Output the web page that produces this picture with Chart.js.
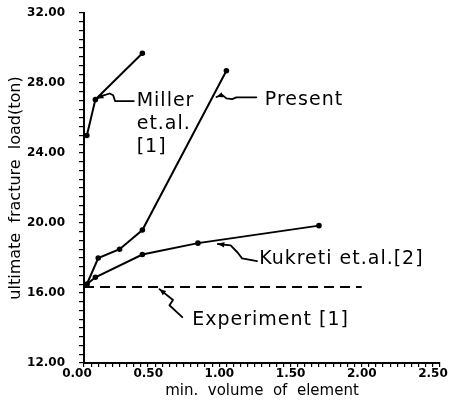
<!DOCTYPE html>
<html>
<head>
<meta charset="utf-8">
<script src="https://cdn.jsdelivr.net/npm/chart.js@4.4.1/dist/chart.umd.min.js"></script>
<style>
  html, body { margin: 0; padding: 0; background: #fff; }
  #wrap { width: 454px; height: 405px; }
</style>
</head>
<body>
<div id="wrap"><canvas id="loadChart" width="454" height="405"></canvas></div>
<script>
// fracture load vs. element volume
const millerX = [0.02, 0.08, 0.41];
const millerY = [25.0, 27.05, 29.7];
const presentX = [0.02, 0.10, 0.25, 0.41, 1.00];
const presentY = [16.5, 18.0, 18.5, 19.6, 28.7];
const kukretiX = [0.02, 0.08, 0.41, 0.80, 1.65];
const kukretiY = [16.5, 16.9, 18.2, 18.85, 19.85];
const experimentX = [0, 1.95];
const experimentY = [16.35, 16.35];

const xLabelStep = 0.5;
const yLabelStep = 4;

const toPoints = (xs, ys) => xs.map((x, i) => ({ x: x, y: ys[i] }));

// hand-drawn style callouts, anchored in data units
const callouts = [
  { lines: ['Miller', 'et.al.', '[1]'], x: 0.37, y: 26.95, lineGap: 1.3,
    path: [[0.091, 27.12], [0.133, 27.28], [0.18, 27.4], [0.205, 27.3], [0.218, 26.97], [0.28, 26.97], [0.35, 26.97]] },
  { lines: ['Present'], x: 1.27, y: 27.05,
    path: [[0.93, 27.2], [0.97, 27.32], [1.0, 27.12], [1.04, 27.08], [1.07, 27.18], [1.21, 27.18]] },
  { lines: ['Kukreti et.al.[2]'], x: 1.23, y: 17.95,
    path: [[0.94, 18.8], [1.03, 18.72], [1.08, 18.3], [1.11, 17.98], [1.215, 17.82]] },
  { lines: ['Experiment [1]'], x: 0.76, y: 14.45,
    path: [[0.53, 16.22], [0.625, 15.6], [0.6, 15.3], [0.69, 14.62]] }
];

const calloutPlugin = {
  id: 'callouts',
  afterDatasetsDraw(chart) {
    const { ctx, scales } = chart;
    ctx.save();
    ctx.strokeStyle = '#000';
    ctx.fillStyle = '#000';
    ctx.lineWidth = 1.8;
    ctx.lineJoin = 'round';
    ctx.lineCap = 'round';
    callouts.forEach(c => {
      const pts = c.path.map(p => [scales.x.getPixelForValue(p[0]), scales.y.getPixelForValue(p[1])]);
      ctx.beginPath();
      pts.forEach((p, i) => i ? ctx.lineTo(p[0], p[1]) : ctx.moveTo(p[0], p[1]));
      ctx.stroke();
      // arrow head at the first point
      const [x0, y0] = pts[0];
      const [x1, y1] = pts[1];
      const a = Math.atan2(y0 - y1, x0 - x1);
      ctx.beginPath();
      ctx.moveTo(x0, y0);
      ctx.lineTo(x0 - 7 * Math.cos(a - 0.4), y0 - 7 * Math.sin(a - 0.4));
      ctx.lineTo(x0 - 7 * Math.cos(a + 0.4), y0 - 7 * Math.sin(a + 0.4));
      ctx.closePath();
      ctx.fill();

      ctx.font = '19px "DejaVu Sans"';
      ctx.letterSpacing = '1px';
      ctx.textBaseline = 'middle';
      ctx.textAlign = 'left';
      c.lines.forEach((t, i) => {
        ctx.fillText(t, scales.x.getPixelForValue(c.x), scales.y.getPixelForValue(c.y - i * (c.lineGap || 0)));
      });
    });
    ctx.restore();
  }
};

const isMultiple = (v, step) => Math.abs(v / step - Math.round(v / step)) < 1e-6;

const lineStyle = {
  showLine: true,
  borderColor: '#000',
  backgroundColor: '#000',
  borderWidth: 2,
  pointRadius: 1.8,
  pointHoverRadius: 1.8,
  tension: 0
};

const tickFont = { family: '"DejaVu Sans"', size: 12, weight: 'bold' };

new Chart(document.getElementById('loadChart'), {
  type: 'scatter',
  data: {
    datasets: [
      { label: 'Miller et.al. [1]', data: toPoints(millerX, millerY), ...lineStyle },
      { label: 'Present', data: toPoints(presentX, presentY), ...lineStyle },
      { label: 'Kukreti et.al.[2]', data: toPoints(kukretiX, kukretiY), ...lineStyle },
      { label: 'Experiment [1]', data: toPoints(experimentX, experimentY), ...lineStyle,
        pointRadius: 0, borderDash: [10, 6] }
    ]
  },
  options: {
    responsive: false,
    animation: false,
    layout: { padding: { top: 13, right: 14, left: 0, bottom: 0 } },
    plugins: {
      legend: { display: false },
      tooltip: { enabled: false }
    },
    scales: {
      x: {
        type: 'linear',
        min: 0,
        max: 2.5,
        border: { display: true, color: '#000', width: 2 },
        grid: { drawOnChartArea: false, drawTicks: true, tickLength: 4, color: '#000', lineWidth: 1.2 },
        ticks: {
          stepSize: 0.05,
          maxTicksLimit: 100,
          autoSkip: false,
          maxRotation: 0,
          padding: 0,
          labelOffset: -7,
          color: '#000',
          font: tickFont,
          callback: v => isMultiple(v, xLabelStep) ? v.toFixed(2) : ''
        },
        title: {
          display: true,
          text: 'min.  volume  of  element',
          color: '#000',
          padding: { top: 0, bottom: 5 },
          font: { family: '"DejaVu Sans"', size: 15 }
        },
        afterFit: s => {
          s.height = 42;
          s.paddingLeft = 0;
          s.paddingRight = 0;
        }
      },
      y: {
        type: 'linear',
        min: 12,
        max: 32,
        border: { display: true, color: '#000', width: 2 },
        grid: { drawOnChartArea: false, drawTicks: true, tickLength: 5, color: '#000', lineWidth: 1.2 },
        ticks: {
          stepSize: 0.5,
          maxTicksLimit: 100,
          autoSkip: false,
          padding: 14,
          color: '#000',
          font: tickFont,
          callback: v => isMultiple(v, yLabelStep) ? v.toFixed(2) : ''
        },
        title: {
          display: true,
          text: 'ultimate  fracture  load(ton)',
          color: '#000',
          padding: { top: 6, bottom: 0 },
          font: { family: '"DejaVu Sans"', size: 16 }
        },
        afterFit: s => {
          s.width = 84;
          s.paddingTop = 0;
          s.paddingBottom = 0;
        }
      }
    }
  },
  plugins: [calloutPlugin]
});
</script>
</body>
</html>
